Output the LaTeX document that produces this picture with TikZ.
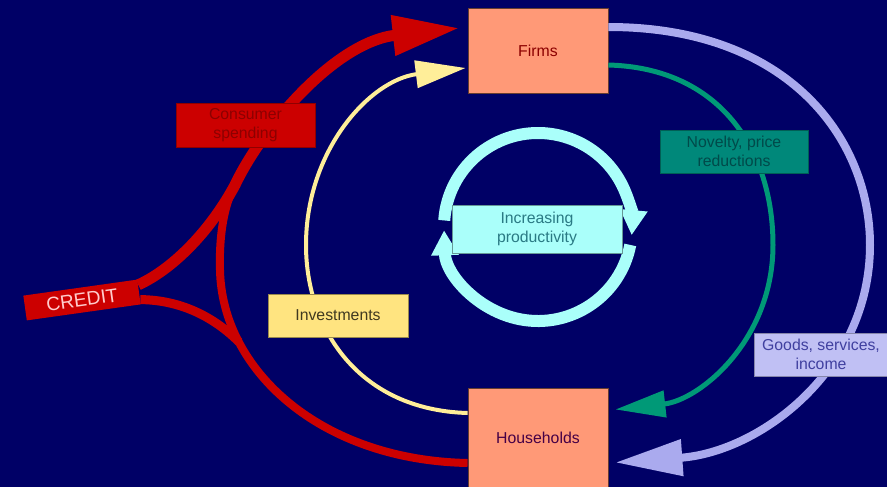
\documentclass[tikz,border=0pt]{standalone}
\usepackage{fontspec}
\setmainfont{Liberation Sans}
\usetikzlibrary{arrows.meta}
\usetikzlibrary{calc}
\definecolor{navybg}{HTML}{000066}
\definecolor{credred}{HTML}{CC0000}
\definecolor{salmon}{HTML}{FF9977}
\definecolor{paleyel}{HTML}{FFEE99}
\definecolor{boxyel}{HTML}{FFE480}
\definecolor{tealgr}{HTML}{009977}
\definecolor{tealbox}{HTML}{00887A}
\definecolor{lavend}{HTML}{AAAAEE}
\definecolor{lavbox}{HTML}{C0C0F4}
\definecolor{paleaqua}{HTML}{AAFFFA}
\definecolor{noveltxt}{HTML}{004A4A}
\definecolor{goodstxt}{HTML}{4040A0}
\definecolor{prodtxt}{HTML}{2A7A84}
\newcommand{\picw}{887}
\newcommand{\pich}{487}
\newcommand{\ringr}{94}
\newcommand{\labelfont}{\fontsize{9}{10.5}\selectfont}
\tikzset{
  agent/.style={fill=salmon, draw=salmon!40!black, line width=0.5pt,
    minimum width=2.8cm, inner sep=0pt, font=\labelfont},
  flowlabel/.style={minimum height=0.86cm, inner sep=0pt, align=center,
    line width=0.5pt, font=\labelfont},
  redflow/.style={draw=credred, line width=#1},
  ringflow/.style={draw=paleaqua, line width=0.24cm,
    -{Triangle[length=0.5cm, width=0.52cm]}},
}

\begin{document}
\begin{tikzpicture}[x=0.02cm, y=-0.02cm]
    % background
    \fill[navybg] (0,0) rectangle (\picw,\pich);
    \useasboundingbox (0,0) rectangle (\picw,\pich);

    % firms and households
    \node[agent, minimum height=1.7cm, text=red!55!black] (firms) at (538,50.5) {Firms};
    \node[agent, minimum height=1.98cm, text=red!50!blue!55!black] (households) at (538,437.5) {Households};
    \node[rotate=8, fill=credred, minimum width=2.3cm, minimum height=0.5cm, inner sep=0pt,
      text=red!20!white, font=\fontsize{11}{13}\selectfont] (credit) at (82,300) {CREDIT};
    \coordinate (upstart) at ($(credit.north east)!0.22!(credit.south east)$);
    \coordinate (lowstart) at ($(credit.south east)!0.2!(credit.north east)$);
    \coordinate (join) at (235,185);
    \coordinate (lowjoin) at (239,342);

    % productivity ring
    \coordinate (ringc) at (538,227);
    \draw[ringflow] (ringc) ++(184:\ringr) arc[start angle=184, end angle=365, radius=\ringr];
    \draw[ringflow] (ringc) ++(11:\ringr) arc[start angle=11, end angle=178, radius=\ringr];

    % goods, services, income
    \draw[draw=lavend, line width=0.16cm, -{Triangle[length=1.34cm, width=0.7cm]}]
      ($(firms.east)+(0,-23.5)$) .. controls (790,27) and (870,140) .. (870,245)
      .. controls (870,370) and (760,452) .. ($(households.east)+(7,25)$);
    % novelty
    \draw[draw=tealgr, line width=0.1cm, -{Triangle[length=1cm, width=0.52cm]}]
      ($(firms.east)+(0,14.5)$) .. controls (720,68) and (773,150) .. (773,245)
      .. controls (773,340) and (700,400) .. ($(households.east)+(7,-28)$);
    % investments
    \draw[draw=paleyel, line width=0.08cm, -{Triangle[length=1cm, width=0.54cm]}]
      ($(households.west)+(0,-24.5)$) .. controls (360,410) and (306,330) .. (306,245)
      .. controls (306,150) and (370,80) .. ($(firms.west)+(-2,17.5)$);

    % credit and consumer spending
    \draw[redflow=0.16cm] ($(households.west)+(0,25.5)$) .. controls (320,460) and (222,370) .. (220,270)
      .. controls (219,235) and (224,205) .. (join);
    \draw[redflow=0.18cm] (lowstart) .. controls (182,300) and (215,318) .. (lowjoin);
    \draw[redflow=0.22cm, -{Triangle[length=1.34cm, width=0.76cm]}]
      (upstart) .. controls (175,268) and (212,228) .. (join)
      .. controls (262,128) and (335,42) .. ($(firms.west)+(-8,-22.5)$);

    % labels
    \node[flowlabel, fill=credred, draw=credred!70!black, minimum width=2.78cm, minimum height=0.88cm,
      text=red!55!black] (consumer) at (245.5,125) {Consumer\\spending};
    \node[flowlabel, fill=tealbox, draw=tealbox!70!black, minimum width=2.96cm,
      text=noveltxt] (novelty) at (734,151.5) {Novelty, price\\reductions};
    \node[flowlabel, fill=lavbox, draw=lavbox!70!black, minimum width=2.66cm,
      text=goodstxt] (goods) at (821,354.5) {Goods, services,\\income};
    \node[flowlabel, fill=boxyel, draw=boxyel!60!black, minimum width=2.8cm,
      text=black!75!boxyel] (invest) at (338,315.5) {Investments};
    \node[flowlabel, fill=paleaqua, draw=paleaqua!60!black, minimum width=3.4cm, minimum height=0.96cm,
      text=prodtxt] (prod) at (537,229) {Increasing\\productivity};
\end{tikzpicture}
\end{document}
